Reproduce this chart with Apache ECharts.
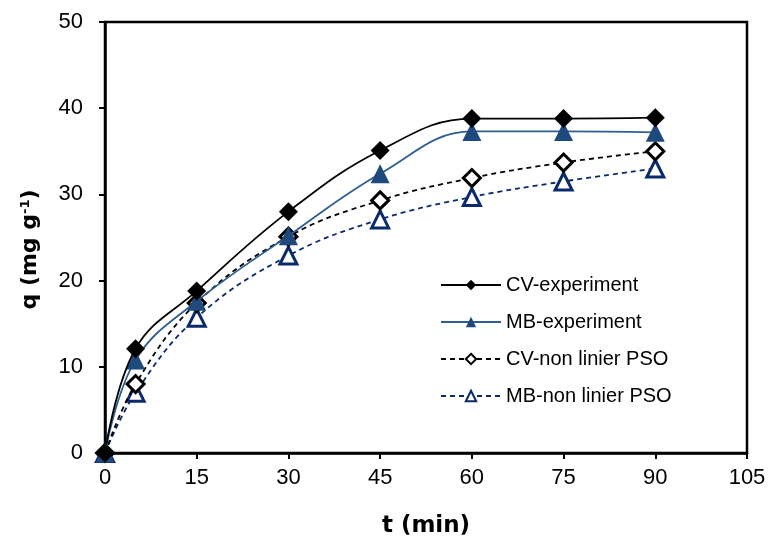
<!DOCTYPE html>
<html lang="en">
<head>
	<meta charset="UTF-8">
	<title>kinetics</title>
	<style>
		html, body { margin: 0; padding: 0; background: #fff; }
		#chart { width: 769px; height: 543px; }
	</style>
</head>
<body>
	<div id="chart"></div>
	<script type="text/javascript" src="https://cdn.jsdelivr.net/npm/echarts@6/dist/echarts.min.js"></script>
	<script>
		// time (min)
		var times = [0, 5, 15, 30, 45, 60, 75, 90];
		var cvExp = [0, 12.1, 18.8, 28.0, 35.1, 38.8, 38.8, 38.9];
		var mbExp = [0, 10.8, 17.6, 25.2, 32.4, 37.3, 37.3, 37.2];
		var cvPso = [0, 8.0, 17.4, 25.1, 29.3, 31.9, 33.7, 35.0];
		var mbPso = [0, 7.0, 15.7, 22.9, 27.1, 29.7, 31.5, 33.0];
		var xTicks = [0, 15, 30, 45, 60, 75, 90, 105];
		var yTicks = [0, 10, 20, 30, 40, 50];

		function pairs(vals){
			var arr = [];
			for(var i = 0; i < times.length; i++){
				arr.push([times[i], vals[i]]);
			}
			return arr;
		}

		var font = 'Liberation Sans, Arial, sans-serif';
		var titleFont = 'DejaVu Sans, sans-serif';
		var chart = echarts.init(document.getElementById('chart'), null, {renderer: 'canvas'});

		var option = {
			backgroundColor: '#fff',
			animation: false,
			textStyle: { fontFamily: font },
			grid: {
				left: 105, right: 22, top: 22, bottom: 87,
				show: true, borderColor: '#000', borderWidth: 2.5,
				backgroundColor: 'transparent'
			},
			legend: {
				left: 435, top: 270,
				orient: 'vertical',
				itemWidth: 60, itemHeight: 13, itemGap: 17,
				textStyle: { fontFamily: font, fontSize: 20, color: '#000' },
				data: ['CV-experiment', 'MB-experiment', 'CV-non linier PSO', 'MB-non linier PSO']
			},
			xAxis: {
				type: 'value', min: 0, max: 105, interval: 15,
				name: 't (min)', nameLocation: 'middle', nameGap: 62,
				nameTextStyle: { fontFamily: titleFont, fontSize: 23, fontWeight: 'bold', color: '#000' },
				axisLine: { lineStyle: { color: '#000', width: 2.5 } },
				axisTick: { inside: false, length: 6, lineStyle: { color: '#000', width: 2 } },
				axisLabel: {
					fontFamily: font, fontSize: 22, color: '#000', margin: 14,
					formatter: function(v){ return xTicks.indexOf(v) >= 0 ? String(v) : ''; }
				},
				splitLine: { show: false }
			},
			yAxis: {
				type: 'value', min: 0, max: 50, interval: 10,
				name: '{a|q (mg g}{s|-1}{a|)}', nameLocation: 'middle', nameGap: 64, nameRotate: 90,
				nameTextStyle: {
					padding: [0, 24, 0, 0],
					rich: {
						a: { fontFamily: titleFont, fontSize: 22, fontWeight: 'bold', color: '#000' },
						s: { fontFamily: titleFont, fontSize: 13, fontWeight: 'bold', color: '#000', verticalAlign: 'top', padding: [0, 0, 8, 0] }
					}
				},
				axisLine: { lineStyle: { color: '#000', width: 2.5 } },
				axisTick: { inside: false, length: 6, lineStyle: { color: '#000', width: 2 } },
				axisLabel: {
					fontFamily: font, fontSize: 22, color: '#000', margin: 22,
					formatter: function(v){ return yTicks.indexOf(v) >= 0 ? String(v) : ''; }
				},
				splitLine: { show: false }
			},
			series: [
				{
					name: 'CV-experiment', type: 'line', smooth: 0.4,
					data: pairs(cvExp),
					symbol: 'diamond', symbolSize: 19,
					itemStyle: { color: '#000', borderColor: '#000', borderWidth: 0 },
					lineStyle: { color: '#000', width: 1.8 },
					z: 4
				},
				{
					name: 'MB-experiment', type: 'line', smooth: 0.4,
					data: pairs(mbExp),
					symbol: 'triangle', symbolSize: 19,
					itemStyle: { color: '#1f497d', borderColor: '#1f497d', borderWidth: 0 },
					lineStyle: { color: '#2f5f92', width: 1.8 },
					z: 3
				},
				{
					name: 'CV-non linier PSO', type: 'line', smooth: 0.4,
					data: pairs(cvPso),
					symbol: 'diamond', symbolSize: 17,
					itemStyle: { color: '#fff', borderColor: '#000', borderWidth: 3 },
					lineStyle: { color: '#000', width: 1.8, type: [5, 4] },
					z: 2
				},
				{
					name: 'MB-non linier PSO', type: 'line', smooth: 0.4,
					data: pairs(mbPso),
					symbol: 'triangle', symbolSize: 17,
					itemStyle: { color: '#fff', borderColor: '#0b2a6b', borderWidth: 3 },
					lineStyle: { color: '#0b2a6b', width: 1.8, type: [5, 4] },
					z: 1
				}
			]
		};

		chart.setOption(option);
	</script>
</body>
</html>
